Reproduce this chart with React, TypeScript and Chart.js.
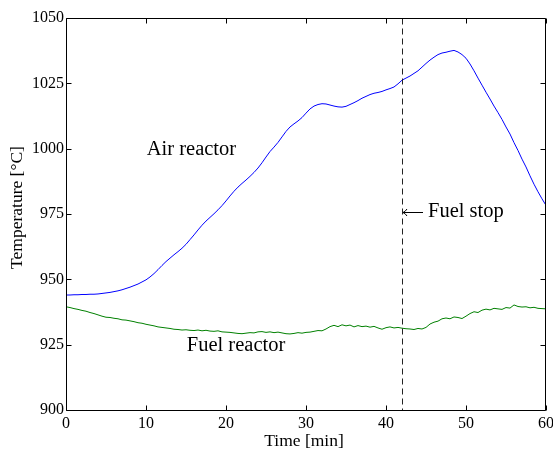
import { useEffect, useRef } from "react";
import { Chart, registerables } from "chart.js";

Chart.register(...registerables);

// Sampling interval of the logged temperatures (minutes)
const STEP_MIN = 0.5;

// Air reactor temperature [°C], every 0.5 min from 0 to 60 min
const AIR_REACTOR = [
  944.0, 944.0, 944.1, 944.1, 944.2, 944.2, 944.3, 944.3, 944.4, 944.6,
  944.8, 945.0, 945.3, 945.6, 946.0, 946.5, 947.0, 947.6, 948.2, 949.0,
  949.8, 950.9, 952.2, 953.7, 955.3, 956.8, 958.1, 959.4, 960.6, 961.9,
  963.4, 965.2, 967.0, 968.9, 970.7, 972.3, 973.7, 975.1, 976.6, 978.2,
  980.0, 981.9, 983.7, 985.3, 986.7, 988.0, 989.4, 990.9, 992.6, 994.6,
  996.8, 998.9, 1000.6, 1002.4, 1004.5, 1006.6, 1008.3, 1009.5, 1010.6, 1011.9,
  1013.6, 1015.2, 1016.3, 1016.9, 1017.2, 1017.1, 1016.7, 1016.3, 1016.0, 1015.9,
  1016.2, 1016.9, 1017.6, 1018.4, 1019.3, 1020.0, 1020.7, 1021.2, 1021.5, 1021.9,
  1022.5, 1023.0, 1023.6, 1024.8, 1026.2, 1027.0, 1027.8, 1028.8, 1029.8, 1031.2,
  1032.6, 1033.9, 1035.0, 1036.0, 1036.6, 1036.9, 1037.3, 1037.6, 1037.0, 1036.0,
  1034.6, 1032.4, 1029.8, 1027.0, 1024.3, 1021.6, 1019.0, 1016.3, 1013.8, 1011.2,
  1008.3, 1005.6, 1002.3, 999.3, 996.0, 993.0, 989.6, 986.4, 983.5, 980.8,
  978.3,
];

// Fuel reactor temperature [°C], every 0.5 min from 0 to 60 min
const FUEL_REACTOR = [
  939.5, 939.2, 938.8, 938.5, 938.1, 937.8, 937.3, 936.9, 936.4, 935.9,
  935.5, 935.4, 935.1, 934.9, 934.5, 934.4, 934.1, 933.8, 933.4, 933.2,
  932.8, 932.5, 932.2, 931.8, 931.6, 931.4, 931.2, 930.9, 930.8, 930.6,
  930.7, 930.5, 930.4, 930.6, 930.3, 930.5, 930.2, 930.1, 930.3, 929.9,
  929.8, 929.7, 929.5, 929.3, 929.2, 929.4, 929.6, 929.5, 929.9, 930.0,
  929.7, 929.9, 929.6, 929.8, 929.5, 929.2, 929.1, 929.3, 929.6, 929.4,
  929.7, 929.8, 930.1, 930.4, 930.3, 931.0, 931.9, 932.4, 931.9, 932.6,
  932.2, 932.5, 931.8, 932.3, 931.9, 932.1, 931.7, 932.0, 931.4, 930.9,
  931.5, 931.8, 931.4, 931.6, 931.3, 931.1, 931.0, 930.8, 931.2, 931.0,
  931.6, 932.9, 933.6, 934.0, 934.9, 935.2, 934.9, 935.6, 935.4, 935.0,
  935.9, 936.9, 937.6, 937.3, 938.2, 938.6, 938.3, 938.9, 938.7, 938.5,
  939.2, 939.0, 940.2, 939.6, 939.4, 939.5, 939.1, 939.3, 938.9, 938.8,
  938.7,
];

const X_TICKS = [0, 10, 20, 30, 40, 50, 60];
const Y_TICKS = [900, 925, 950, 975, 1000, 1025, 1050];

const X_TITLE = "Time [min]";
const Y_TITLE = "Temperature [°C]";

const FUEL_STOP_TIME = 42;

// Text annotations (data coordinates: time, temperature at text baseline)
const LABEL_TEXTS = ["Air reactor", "Fuel reactor", "Fuel stop"];
const LABEL_TIMES = [10.1, 15.1, 42];
const LABEL_TEMPS = [997.4, 922.7, 973.9];

const SERIF = "'Liberation Serif', 'Times New Roman', serif";

const toPoints = (vals: number[]) => vals.map((v, i) => ({ x: i * STEP_MIN, y: v }));

const zeroPad = (s: any) => {
  s.paddingLeft = 0;
  s.paddingRight = 0;
  s.paddingTop = 0;
  s.paddingBottom = 0;
};

const framePlugin = {
  id: "mplFrame",
  afterDraw(chart: any) {
    const { ctx, chartArea: a, scales } = chart;
    const xs = scales.x;
    const ys = scales.y;
    const L = Math.round(a.left) + 0.5;
    const R = Math.round(a.right) - 0.5;
    const T = Math.round(a.top) + 0.5;
    const B = Math.round(a.bottom) + 0.5;
    ctx.save();

    // dashed fuel-stop line
    const fx = Math.round(xs.getPixelForValue(FUEL_STOP_TIME)) + 0.5;
    ctx.strokeStyle = "#222";
    ctx.lineWidth = 1;
    ctx.setLineDash([6, 4]);
    ctx.beginPath();
    ctx.moveTo(fx, T);
    ctx.lineTo(fx, B);
    ctx.stroke();
    ctx.setLineDash([]);

    // frame
    ctx.strokeStyle = "#000";
    ctx.lineWidth = 1;
    ctx.beginPath();
    ctx.moveTo(L, T);
    ctx.lineTo(R, T);
    ctx.lineTo(R, B);
    ctx.lineTo(L, B);
    ctx.closePath();
    ctx.stroke();

    // inward ticks on all sides
    const TL = 5;
    ctx.beginPath();
    X_TICKS.forEach((t) => {
      const px = Math.round(xs.getPixelForValue(t)) + 0.5;
      ctx.moveTo(px, B);
      ctx.lineTo(px, B - TL);
      ctx.moveTo(px, T);
      ctx.lineTo(px, T + TL);
    });
    Y_TICKS.forEach((v) => {
      const py = Math.round(ys.getPixelForValue(v)) + 0.5;
      ctx.moveTo(L, py);
      ctx.lineTo(L + TL, py);
      ctx.moveTo(R, py);
      ctx.lineTo(R - TL, py);
    });
    ctx.stroke();

    // axis titles
    ctx.fillStyle = "#000";
    ctx.font = `17.5px ${SERIF}`;
    ctx.textAlign = "center";
    ctx.textBaseline = "alphabetic";
    ctx.fillText(X_TITLE, (a.left + a.right) / 2 - 2, 445.5);
    ctx.save();
    ctx.translate(21.5, (a.top + a.bottom) / 2 - 6.5);
    ctx.rotate(-Math.PI / 2);
    ctx.fillText(Y_TITLE, 0, 0);
    ctx.restore();

    // annotations
    ctx.font = `20.5px ${SERIF}`;
    ctx.textBaseline = "alphabetic";
    ctx.textAlign = "left";
    LABEL_TEXTS.forEach((txt, i) => {
      const px = xs.getPixelForValue(LABEL_TIMES[i]);
      const py = ys.getPixelForValue(LABEL_TEMPS[i]);
      if (i === 2) {
        // left arrow pointing at the dashed line
        const ay = Math.round(py - 5) + 0.5;
        const ax = px + 1;
        ctx.strokeStyle = "#000";
        ctx.lineWidth = 1;
        ctx.beginPath();
        ctx.moveTo(ax, ay);
        ctx.lineTo(ax + 20, ay);
        ctx.moveTo(ax + 4, ay - 3.5);
        ctx.quadraticCurveTo(ax + 2, ay - 0.5, ax, ay);
        ctx.quadraticCurveTo(ax + 2, ay + 0.5, ax + 4, ay + 3.5);
        ctx.stroke();
        ctx.fillText(txt, px + 26, py);
      } else {
        ctx.fillText(txt, px, py);
      }
    });
    ctx.restore();
  },
};

export default function App() {
  const ref = useRef<HTMLCanvasElement | null>(null);

  useEffect(() => {
    document.body.style.margin = "0";
    const canvas = ref.current;
    if (!canvas) return;
    const chart = new Chart(canvas, {
      type: "line",
      data: {
        datasets: [
          {
            label: "Air reactor",
            data: toPoints(AIR_REACTOR),
            borderColor: "#0000ff",
            borderWidth: 1,
            pointRadius: 0,
            tension: 0,
            fill: false,
          },
          {
            label: "Fuel reactor",
            data: toPoints(FUEL_REACTOR),
            borderColor: "#008000",
            borderWidth: 1,
            pointRadius: 0,
            tension: 0,
            fill: false,
          },
        ],
      },
      options: {
        responsive: false,
        animation: false,
        devicePixelRatio: 1,
        layout: { padding: { top: 18, right: 7, left: 0, bottom: 0 } },
        plugins: {
          legend: { display: false },
          tooltip: { enabled: false },
        },
        scales: {
          x: {
            type: "linear",
            min: 0,
            max: 60,
            afterFit: (s: any) => {
              s.height = 39;
              zeroPad(s);
            },
            afterBuildTicks: (s: any) => {
              s.ticks = X_TICKS.map((v) => ({ value: v }));
            },
            grid: { display: false, drawTicks: false },
            border: { display: false },
            ticks: {
              padding: 4,
              color: "#000",
              font: { family: SERIF, size: 16 },
              maxRotation: 0,
              autoSkip: false,
              callback: (v: any) => String(v),
            },
            title: { display: false },
          },
          y: {
            type: "linear",
            min: 900,
            max: 1050,
            afterFit: (s: any) => {
              s.width = 66;
              zeroPad(s);
            },
            afterBuildTicks: (s: any) => {
              s.ticks = Y_TICKS.map((v) => ({ value: v }));
            },
            grid: { display: false, drawTicks: false },
            border: { display: false },
            ticks: {
              padding: 2,
              color: "#000",
              font: { family: SERIF, size: 16 },
              autoSkip: false,
              callback: (v: any) => String(v),
            },
            title: { display: false },
          },
        },
      },
      plugins: [framePlugin],
    });
    return () => chart.destroy();
  }, []);

  return (
    <div style={{ width: 553, height: 449 }}>
      <canvas ref={ref} width={553} height={449} style={{ display: "block", width: 553, height: 449 }} />
    </div>
  );
}
